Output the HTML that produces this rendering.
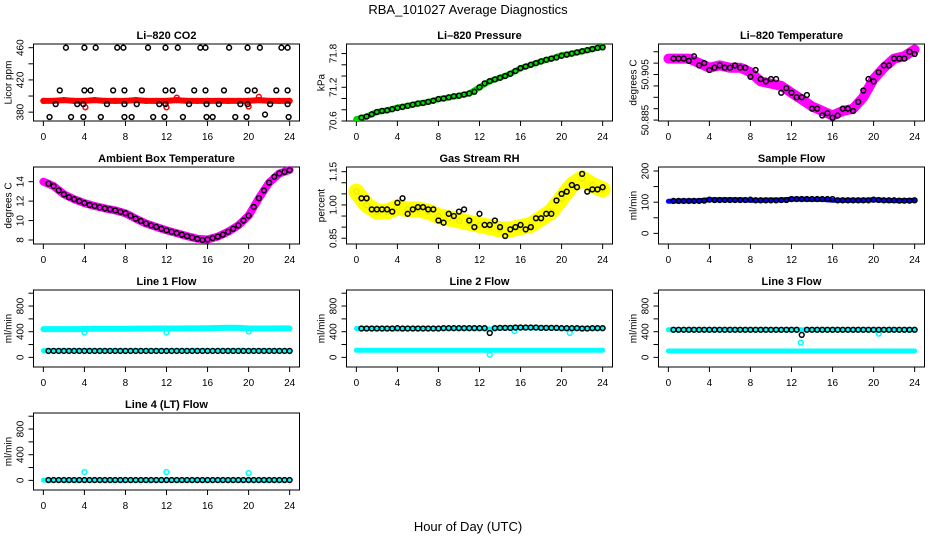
<!DOCTYPE html>
<html><head><meta charset="utf-8">
<style>
html,body{margin:0;padding:0;background:#fff;}
svg{display:block;font-family:"Liberation Sans",Arial,sans-serif;}
</style></head>
<body>
<svg id="chart" width="936" height="540" viewBox="0 0 936 540" xmlns="http://www.w3.org/2000/svg">
<rect x="0" y="0" width="936" height="540" fill="#fff"/>
<text x="468" y="14" font-size="13" text-anchor="middle">RBA_101027  Average Diagnostics</text>
<text x="468" y="531" font-size="13" text-anchor="middle">Hour of Day (UTC)</text>
</svg>
<script>
const hB = [0.5,1,1.5,2,2.5,3,3.5,4,4.5,5,5.5,6,6.5,7,7.5,8,8.5,9,9.5,10,10.5,11,11.5,12,12.5,13,13.5,14,14.5,15,15.5,16,16.5,17,17.5,18,18.5,19,19.5,20,20.5,21,21.5,22,22.5,23,23.5,24];
const hC = [0,1,2,3,4,5,6,7,8,9,10,11,12,13,14,15,16,17,18,19,20,21,22,23,24];
const xTicks = [0,4,8,12,16,20,24];

const co2H = [2.2,4.0,5.1,7.2,7.8,10.2,11.9,13.1,15.3,15.8,18.1,19.9,21.1,23.2,23.8, 1.6,4.0,4.6,6.8,7.9,9.6,11.9,12.6,14.7,15.8,17.6,19.9,20.6,22.7,23.8, 1.2,3.3,3.9,6.2,7.9,9.1,11.3,11.9,14.2,15.9,17.1,19.2,19.9,22.1,23.8, 0.6,2.7,3.9,5.6,7.9,8.6,10.7,11.8,13.6,15.9,16.5,18.7,19.8,21.6,23.9];
const co2V = [460,460,460,460,460,460,460,460,460,460,460,460,460,460,460, 407,407,407,407,407,407,407,407,407,407,407,407,407,407,407, 390,390,390,390,390,390,390,390,390,390,390,390,390,390,390, 374,374,374,374,374,374,374,374,374,374,374,374,374,377,374];
const co2Red = [394,394,395,394,394,395,394,394,394,395,394,394,394,395,394,394,394,394,394,394,394,395,394,394,394];
const co2RedOutH = [4.1,12.0,13.0,20.0,21.0];
const co2RedOutV = [386,386,398,387,399];

const presBlack = [70.66,70.68,70.72,70.76,70.78,70.79,70.81,70.83,70.85,70.87,70.89,70.91,70.92,70.94,70.96,70.99,71.0,71.02,71.04,71.05,71.07,71.09,71.12,71.2,71.27,71.31,71.34,71.37,71.4,71.44,71.49,71.54,71.57,71.6,71.63,71.66,71.69,71.71,71.73,71.76,71.78,71.8,71.82,71.84,71.86,71.88,71.9,71.91];
const presGreen = [70.63,70.68,70.76,70.79,70.84,70.87,70.91,70.94,70.99,71.02,71.05,71.09,71.2,71.31,71.37,71.44,71.54,71.6,71.66,71.71,71.77,71.8,71.84,71.88,71.92];

const ltBlack = [50.912,50.912,50.912,50.911,50.913,50.909,50.910,50.907,50.908,50.909,50.908,50.908,50.909,50.908,50.908,50.904,50.907,50.903,50.902,50.903,50.903,50.897,50.899,50.897,50.895,50.895,50.896,50.890,50.890,50.887,50.888,50.886,50.887,50.890,50.890,50.889,50.893,50.898,50.903,50.902,50.906,50.909,50.909,50.912,50.912,50.912,50.915,50.914];
const ltMagenta = [50.912,50.912,50.912,50.910,50.908,50.909,50.908,50.908,50.906,50.902,50.901,50.900,50.897,50.894,50.891,50.889,50.887,50.889,50.890,50.895,50.903,50.908,50.912,50.913,50.916];

const ambBlack = [13.8,13.55,13.1,12.7,12.4,12.2,12.0,11.8,11.6,11.5,11.35,11.25,11.15,11.05,10.9,10.75,10.5,10.2,9.95,9.7,9.5,9.35,9.15,9.0,8.85,8.7,8.55,8.4,8.25,8.12,8.0,8.05,8.2,8.35,8.55,8.85,9.15,9.5,10.0,10.5,11.4,12.3,13.1,13.9,14.5,14.85,15.0,15.2];
const ambMagenta = [14.0,13.55,12.7,12.2,11.8,11.5,11.25,11.05,10.75,10.2,9.7,9.35,9.0,8.7,8.4,8.12,8.05,8.35,8.85,9.5,10.5,12.3,13.9,14.85,15.2];

const rhBlack = [1.03,1.03,0.98,0.98,0.98,0.98,0.97,1.01,1.03,0.96,0.98,0.99,0.99,0.98,0.98,0.93,0.92,0.96,0.95,0.97,0.98,0.93,0.90,0.96,0.91,0.91,0.93,0.90,0.86,0.89,0.90,0.91,0.89,0.90,0.94,0.94,0.96,0.96,1.02,1.05,1.06,1.09,1.08,1.14,1.06,1.07,1.07,1.08];
const rhYellow = [1.06,1.0,0.97,0.97,0.99,0.98,0.98,0.97,0.95,0.94,0.93,0.92,0.91,0.9,0.89,0.89,0.9,0.91,0.94,0.97,1.03,1.09,1.12,1.09,1.07];

const sfBlack = [104,104,104,104,104,104,105,108,107,107,107,107,107,107,107,108,106,106,106,106,106,107,107,110,110,110,110,110,110,110,110,110,106,106,106,106,106,106,106,108,107,106,106,106,105,105,105,106];
const sfBlue = [103,104,104,105,108,108,108,108,106,106,107,107,110,110,109,109,106,106,106,106,108,106,105,105,106];

const l1Black = [100,100,100,100,100,100,100,100,100,100,100,100,100,100,100,100,100,100,100,100,100,100,100,100,100,100,100,100,100,100,100,100,100,100,100,100,100,100,100,100,100,100,100,100,100,100,100,100];
const l1CyanHi = [440,440,440,440,442,445,445,445,445,448,448,450,450,450,452,452,455,458,462,460,452,450,450,452,452];
const l1CyanLo = [105,105,105,105,105,105,105,105,105,105,105,105,105,105,105,105,105,105,105,105,105,105,105,105,105];
const l1OutH = [4.0,12.0,20.0];
const l1OutV = [390,390,405];

const l2Black = [450,450,450,450,450,450,450,455,450,450,450,450,450,450,450,450,455,455,455,455,455,455,455,455,455,380,455,460,460,460,465,465,465,465,465,460,460,460,460,455,455,455,455,450,450,455,455,455];
const l2CyanHi = [450,450,450,450,440,450,450,450,450,455,455,455,455,440,460,460,460,460,460,460,450,450,455,455,455];
const l2CyanLo = [110,110,110,110,110,110,110,110,110,110,110,110,110,110,110,110,110,110,110,110,110,110,110,110,110];
const l2OutH = [13.0,15.4,20.8];
const l2OutV = [40,410,380];

const l3Black = [430,430,430,430,430,430,430,430,430,430,430,430,430,430,430,430,430,430,430,430,430,430,430,430,430,350,430,430,430,430,430,430,430,430,430,430,430,430,430,430,430,430,430,430,430,430,430,430];
const l3CyanHi = [430,430,430,430,430,430,430,430,430,430,430,430,430,430,430,430,430,430,430,430,430,430,430,430,430];
const l3CyanLo = [100,100,100,100,100,100,100,100,100,100,100,100,100,100,100,100,100,100,100,100,100,100,100,100,100];
const l3OutH = [12.9,20.5];
const l3OutV = [230,370];

const l4Black = [5,5,5,5,5,5,5,5,5,5,5,5,5,5,5,5,5,5,5,5,5,5,5,5,5,5,5,5,5,5,5,5,5,5,5,5,5,5,5,5,5,5,5,5,5,5,5,5];
const l4Cyan = [5,5,5,5,5,5,5,5,5,5,5,5,5,5,5,5,5,5,5,5,5,5,5,5,5];
const l4OutH = [4.0,12.0,20.0];
const l4OutV = [130,130,115];

const NS = "http://www.w3.org/2000/svg";
const svg = document.getElementById('chart');
const colLeft = [33.5, 346.5, 658.5];
const rowTop = [44, 167, 290, 413];
const W = 266, H = 77;
const XMIN = -0.96, XMAX = 24.96;

function mk(tag, attrs, parent) {
  const e = document.createElementNS(NS, tag);
  for (const k in attrs) e.setAttribute(k, attrs[k]);
  (parent || svg).appendChild(e);
  return e;
}

function panel(name, col, row, title, ylab, ylim, yTicks, yLabVals, yLabText) {
  const L = colLeft[col], T = rowTop[row];
  const g = mk('g', {});
  
  
  const sx = v => L + (v - XMIN) / (XMAX - XMIN) * W;
  const sy = v => T + H - (v - ylim[0]) / (ylim[1] - ylim[0]) * H;
  const box = mk('rect', {x: L, y: T, width: W, height: H, fill: 'none', stroke: '#000', 'stroke-width': 1}, g);
  
  
  const t = mk('text', {x: L + W / 2, y: T - 5, 'font-size': 11, 'font-weight': 'bold', 'text-anchor': 'middle'}, g);
  t.textContent = title;
  
  
  const xa = mk('g', {}, g);
  
  
  mk('line', {x1: sx(xTicks[0]), x2: sx(xTicks[xTicks.length - 1]), y1: T + H, y2: T + H, stroke: '#000'}, xa);
  xTicks.forEach(v => {
    mk('line', {x1: sx(v), x2: sx(v), y1: T + H, y2: T + H + 5, stroke: '#000'}, xa);
    const tx = mk('text', {x: sx(v), y: T + H + 19, 'font-size': 10, 'text-anchor': 'middle'}, xa);
    tx.textContent = v;
  });
  const ya = mk('g', {}, g);
  
  
  yTicks.forEach(v => {
    mk('line', {x1: L - 5, x2: L, y1: sy(v), y2: sy(v), stroke: '#000'}, ya);
  });
  yLabVals.forEach((v, i) => {
    const tx = mk('text', {x: L - 10, y: sy(v), 'font-size': 10, 'text-anchor': 'middle', transform: `rotate(-90 ${L - 10} ${sy(v)})`}, ya);
    tx.textContent = yLabText[i];
  });
  const yl = mk('text', {x: L - 22, y: T + H / 2, 'font-size': 10, 'text-anchor': 'middle', transform: `rotate(-90 ${L - 22} ${T + H / 2})`}, g);
  yl.textContent = ylab;
  
  
  const clipId = 'clip-' + name;
  const cp = mk('clipPath', {id: clipId}, g);
  mk('rect', {x: L, y: T - 3, width: W, height: H + 3}, cp);
  const data = mk('g', {'clip-path': `url(#${clipId})`}, g);
  
  
  return {sx, sy, data};
}

function band(p, name, hs, vs, color, width) {
  const pts = hs.map((h, i) => p.sx(h).toFixed(1) + ',' + p.sy(vs[i]).toFixed(1)).join(' ');
  const pl = mk('polyline', {points: pts, fill: 'none', stroke: color, 'stroke-width': width, 'stroke-linejoin': 'round', 'stroke-linecap': 'round'}, p.data);
  
  
}
function pts(p, name, hs, vs, color, r, sw) {
  const g = mk('g', {}, p.data);
  
  
  hs.forEach((h, i) => {
    mk('circle', {cx: p.sx(h), cy: p.sy(vs[i]), r: r || 2.4, fill: 'none', stroke: color, 'stroke-width': sw || 1.5}, g);
  });
}

// Li-820 CO2
let p = panel('co2', 0, 0, 'Li\u2013820 CO2', 'Licor ppm', [369, 464.6], [380,400,420,440,460], [380,420,460], ['380','420','460']);
band(p, 'co2-red-band', hC, co2Red, '#ff0000', 6);
pts(p, 'co2-red-points', hC, co2Red, '#ff0000');
pts(p, 'co2-red-outliers', co2RedOutH, co2RedOutV, '#ff0000');
pts(p, 'co2-black-points', co2H, co2V, '#000');

// Pressure
p = panel('pressure', 1, 0, 'Li\u2013820 Pressure', 'kPa', [70.6, 71.97], [70.6,70.8,71.0,71.2,71.4,71.6,71.8], [70.6,71.2,71.8], ['70.6','71.2','71.8']);
band(p, 'pressure-green-band', hC, presGreen, '#00e000', 6);
pts(p, 'pressure-green-points', hC, presGreen, '#00cc00');
pts(p, 'pressure-black-points', hB, presBlack, '#000');

// Li-820 Temperature
p = panel('li820-temp', 2, 0, 'Li\u2013820 Temperature', 'degrees C', [50.8846, 50.9184], [50.885,50.89,50.895,50.9,50.905,50.91,50.915], [50.885,50.905], ['50.885','50.905']);
band(p, 'li820-temp-magenta-band', hC, ltMagenta, '#ff00ff', 10);
pts(p, 'li820-temp-magenta-points', hC, ltMagenta, '#ff00ff', 2.6);
pts(p, 'li820-temp-black-points', hB, ltBlack, '#000');

// Ambient box temperature
p = panel('ambient-temp', 0, 1, 'Ambient Box Temperature', 'degrees C', [7.59, 15.51], [8,10,12,14], [8,10,12,14], ['8','10','12','14']);
band(p, 'ambient-magenta-band', hC, ambMagenta, '#ff00ff', 8);
pts(p, 'ambient-black-points', hB, ambBlack, '#000');

// Gas stream RH
p = panel('rh', 1, 1, 'Gas Stream RH', 'percent', [0.824, 1.171], [0.85,0.9,0.95,1.0,1.05,1.1,1.15], [0.85,1.0,1.15], ['0.85','1.00','1.15']);
band(p, 'rh-yellow-band', hC, rhYellow, '#ffff00', 16);
pts(p, 'rh-yellow-points', hC, rhYellow, '#eeee00', 2.6);
pts(p, 'rh-black-points', hB, rhBlack, '#000');

// Sample flow
p = panel('sample-flow', 2, 1, 'Sample Flow', 'ml/min', [-34, 212.8], [0,50,100,150,200], [0,100,200], ['0','100','200']);
band(p, 'sample-flow-blue-band', hC, sfBlue, '#0000ff', 5);
pts(p, 'sample-flow-black-points', hB, sfBlack, '#000');

const fTicks = [0,200,400,600,800,1000], fLab = [0,400,800], fLabT = ['0','400','800'], fLim = [-150, 1050];
// Line 1
p = panel('line1-flow', 0, 2, 'Line 1 Flow', 'ml/min', fLim, fTicks, fLab, fLabT);
band(p, 'line1-cyan-high', hC, l1CyanHi, '#00ffff', 6);
band(p, 'line1-cyan-low', hC, l1CyanLo, '#00ffff', 5);
pts(p, 'line1-cyan-outliers', l1OutH, l1OutV, '#00ffff');
pts(p, 'line1-black-points', hB, l1Black, '#000');
// Line 2
p = panel('line2-flow', 1, 2, 'Line 2 Flow', 'ml/min', fLim, fTicks, fLab, fLabT);
band(p, 'line2-cyan-high', hC, l2CyanHi, '#00ffff', 5);
band(p, 'line2-cyan-low', hC, l2CyanLo, '#00ffff', 5);
pts(p, 'line2-cyan-outliers', l2OutH, l2OutV, '#00ffff');
pts(p, 'line2-black-points', hB, l2Black, '#000');
// Line 3
p = panel('line3-flow', 2, 2, 'Line 3 Flow', 'ml/min', fLim, fTicks, fLab, fLabT);
band(p, 'line3-cyan-high', hC, l3CyanHi, '#00ffff', 5);
band(p, 'line3-cyan-low', hC, l3CyanLo, '#00ffff', 5);
pts(p, 'line3-cyan-outliers', l3OutH, l3OutV, '#00ffff');
pts(p, 'line3-black-points', hB, l3Black, '#000');
// Line 4
p = panel('line4-flow', 0, 3, 'Line 4 (LT) Flow', 'ml/min', fLim, fTicks, fLab, fLabT);
band(p, 'line4-cyan', hC, l4Cyan, '#00ffff', 5);
pts(p, 'line4-cyan-outliers', l4OutH, l4OutV, '#00ffff');
pts(p, 'line4-black-points', hB, l4Black, '#000');
</script>
</body></html>
